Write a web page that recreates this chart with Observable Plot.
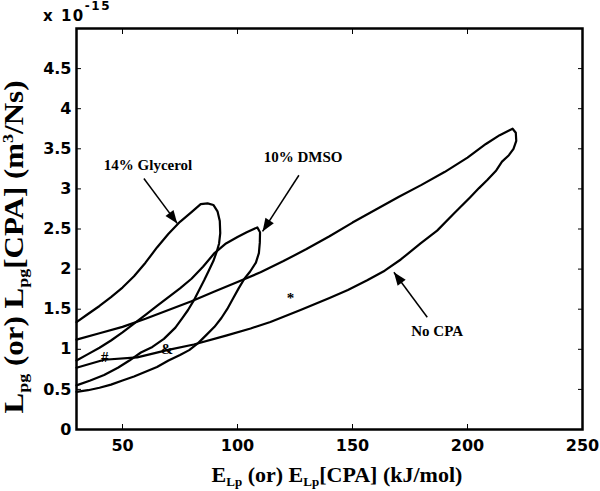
<!DOCTYPE html>
<html><head><meta charset="utf-8">
<script src="https://cdn.jsdelivr.net/npm/d3@7"></script>
<script src="https://cdn.jsdelivr.net/npm/@observablehq/plot@0.6"></script>
<style>body{margin:0;background:#fff}</style>
</head><body><div id="chart"></div>
<script>
// Values (y in units of 1e-15 m^3/Ns, x in kJ/mol)
const noCpaX = [30,40,50,60,70,80,90,100,110,120,130,140,150,160,170,180,190,200,208,214,219.6,
  221,221.2,220,218,215,212.5,208.6,205,201.3,194,186.8,179.6,171,164,156.4,148,140,127.4,114.3,105.7,95,81,69.4,56.4,42,30];
const noCpaY = [1.12,1.20,1.28,1.38,1.49,1.60,1.72,1.84,1.96,2.10,2.25,2.41,2.58,2.74,2.90,3.05,3.21,3.39,3.56,3.67,3.75,
  3.70,3.60,3.50,3.42,3.34,3.23,3.11,3.01,2.90,2.69,2.48,2.32,2.12,1.98,1.86,1.74,1.64,1.49,1.34,1.26,1.17,1.06,0.99,0.90,0.87,0.77];
const glycX = [30,35,40,45,50,55,60,65,70,75,80,84,87,89.5,91.3,92.3,92.5,92,91,89.5,87.5,85.5,83.5,81,78.5,76,73,68,63,58,53,48,42,36,30];
const glycY = [1.34,1.44,1.54,1.65,1.77,1.91,2.08,2.27,2.44,2.59,2.71,2.81,2.82,2.80,2.72,2.60,2.45,2.32,2.22,2.10,1.98,1.86,1.75,1.61,1.49,1.39,1.27,1.13,1.03,0.96,0.86,0.77,0.68,0.61,0.55];
const dmsoX = [30,35,40,45,50,55,60,65,70,75,80,85,90,95,100,104,108.6,109.8,109.7,109.3,108,105.5,103,100.5,98,95.5,93,90,86.5,83,79,75,70,65,60,55,50,45,40,35,30];
const dmsoY = [0.86,0.94,1.02,1.11,1.21,1.32,1.43,1.54,1.65,1.76,1.88,2.03,2.20,2.32,2.40,2.46,2.52,2.46,2.33,2.20,2.08,1.97,1.88,1.76,1.63,1.50,1.39,1.28,1.18,1.08,0.99,0.93,0.86,0.78,0.72,0.66,0.61,0.56,0.52,0.49,0.47];

const xTicks = [50,100,150,200,250];
const yTicks = [0,0.5,1,1.5,2,2.5,3,3.5,4,4.5];

const labelText = ["14% Glycerol","10% DMSO","No CPA"];
const labelX = [61.1,128.5,186.8];
const labelY = [3.30,3.39,1.23];
const arrowX1 = [59.3,126.7,182.5];
const arrowY1 = [3.13,3.17,1.40];
const arrowX2 = [73.8,110.9,168.0];
const arrowY2 = [2.57,2.47,1.96];
const markText = ["#","&","*"];
const markX = [42.3,69.4,123];
const markY = [0.90,1.00,1.64];

const W = 600, H = 491, ML = 76, MR = 18, MT = 28, MB = 62;
const xDom = [30,250], yDom = [0,5];

const rows = [];
[["No CPA",noCpaX,noCpaY],["14% Glycerol",glycX,glycY],["10% DMSO",dmsoX,dmsoY]].forEach(([s,xs,ys]) =>
  xs.forEach((x,i) => rows.push({series:s, x, y: ys[i]})));
const labels = labelText.map((t,i) => ({t, x: labelX[i], y: labelY[i]}));
const kx = (W-ML-MR)/(xDom[1]-xDom[0]), ky = (H-MT-MB)/(yDom[1]-yDom[0]);
const arrows = arrowX1.map((x1,i) => {
  const dx = (arrowX2[i]-x1)*kx, dy = -(arrowY2[i]-arrowY1[i])*ky;
  return {x1, y1: arrowY1[i], x2: arrowX2[i], y2: arrowY2[i], rot: Math.atan2(dx,-dy)*180/Math.PI};
});
const marks = markText.map((t,i) => ({t, x: markX[i], y: markY[i]}));
const head = {draw(ctx){ ctx.moveTo(0,0); ctx.lineTo(-5,13); ctx.lineTo(5,13); ctx.closePath(); }};

const plot = Plot.plot({
  width: W, height: H, marginLeft: ML, marginRight: MR, marginTop: MT, marginBottom: MB,
  x: {domain: xDom, label: null},
  y: {domain: yDom, label: null},
  style: {fontFamily: "'DejaVu Sans'", fontSize: "16px", fontWeight: "bold", background: "white", color: "black"},
  marks: [
    Plot.axisX({ticks: xTicks, anchor: "bottom", tickSize: -5, tickPadding: 15, tickFormat: d => String(d), label: null, letterSpacing: 1}),
    Plot.axisX({ticks: xTicks, anchor: "top", tickSize: -5, tickFormat: () => "", label: null}),
    Plot.axisY({ticks: yTicks, anchor: "left", tickSize: -5, tickPadding: 10, tickFormat: d => String(d), label: null, letterSpacing: 1}),
    Plot.axisY({ticks: yTicks, anchor: "right", tickSize: -5, tickFormat: () => "", label: null}),
    Plot.line(rows, {x: "x", y: "y", z: "series", stroke: "black", strokeWidth: 2.2, strokeLinejoin: "round"}),
    Plot.link(arrows, {x1: "x1", y1: "y1", x2: "x2", y2: "y2", stroke: "black", strokeWidth: 1.5}),
    Plot.dot(arrows, {x: "x2", y: "y2", rotate: "rot", symbol: head, fill: "black", stroke: "none"}),
    Plot.text(labels, {x: "x", y: "y", text: "t", fontFamily: "'Liberation Serif'", fontSize: 15, fontWeight: "bold"}),
    Plot.text(marks, {x: "x", y: "y", text: "t", fontFamily: "'Liberation Serif'", fontSize: 15, fontWeight: "bold"}),
    Plot.frame({stroke: "black", strokeWidth: 2.5})
  ]
});
document.getElementById("chart").append(plot);

const svg = d3.select(plot);
// multiplier
const m = svg.append("text").attr("x", 77).attr("y", 21)
  .style("font", "bold 15px 'DejaVu Sans'").style("letter-spacing", "1.5px").attr("fill", "black");
m.append("tspan").text("x 10");
m.append("tspan").attr("dy", -11).style("font-size", "12px").text("-15");
// x label
const xl = svg.append("text").attr("x", 337).attr("y", 482).attr("text-anchor", "middle")
  .style("font", "bold 22px 'Liberation Serif'").attr("fill", "black");
xl.append("tspan").text("E");
xl.append("tspan").attr("dy", 4).style("font-size", "13px").text("Lp");
xl.append("tspan").attr("dy", -4).text(" (or) E");
xl.append("tspan").attr("dy", 4).style("font-size", "13px").text("Lp");
xl.append("tspan").attr("dy", -4).text("[CPA] (kJ/mol)");
// y label
const yl = svg.append("text").attr("text-anchor", "middle")
  .attr("transform", "translate(23,247) rotate(-90) scale(1,0.85)")
  .style("font", "bold 31px 'Liberation Serif'").attr("fill", "black");
yl.append("tspan").text("L");
yl.append("tspan").attr("dy", 6).style("font-size", "18px").text("pg");
yl.append("tspan").attr("dy", -6).text(" (or) L");
yl.append("tspan").attr("dy", 6).style("font-size", "18px").text("pg");
yl.append("tspan").attr("dy", -6).text("[CPA] (m");
yl.append("tspan").attr("dy", -12).style("font-size", "18px").text("3");
yl.append("tspan").attr("dy", 12).text("/Ns)");
</script>
</body></html>
